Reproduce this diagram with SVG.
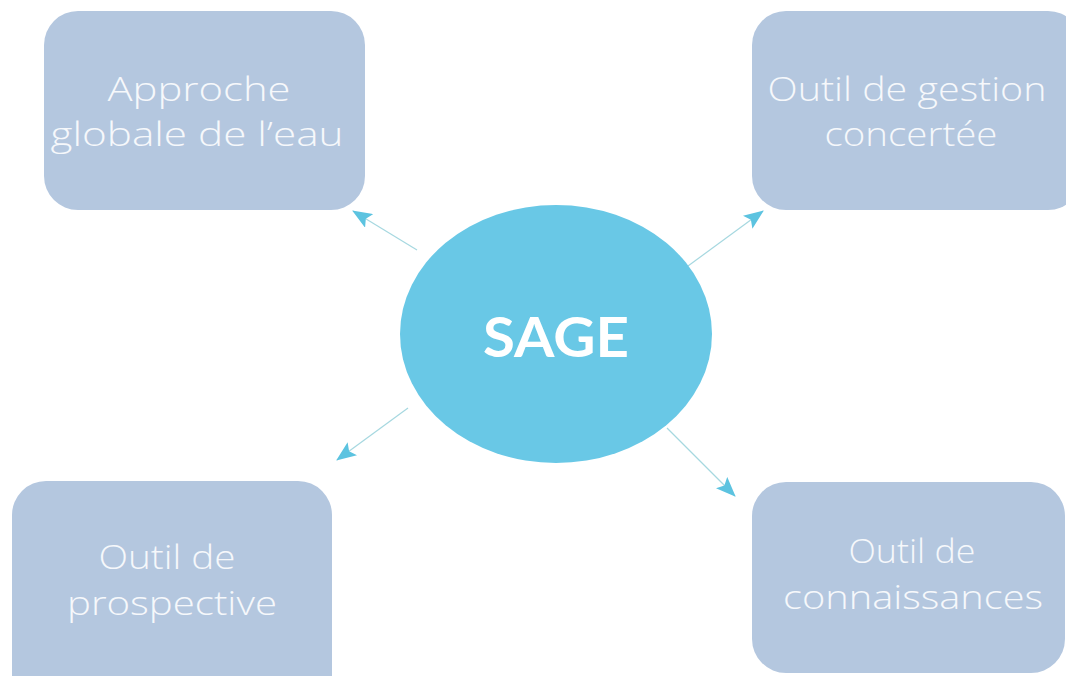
<svg xmlns="http://www.w3.org/2000/svg" width="1066" height="676" viewBox="0 0 1066 676">
<style>
.box{fill:#b4c7df}
.lbl{font-family:"Open Sans","DejaVu Sans",sans-serif;font-weight:300;font-size:33px;fill:#f6f8fb;text-anchor:middle}
.conn{stroke:#a6d8e0;stroke-width:1.2;fill:none;marker-end:url(#ah)}
</style>
<defs>
<marker id="ah" markerUnits="userSpaceOnUse" markerWidth="20" markerHeight="16" refX="19" refY="8" orient="auto">
<path d="M0,0 L20,8 L0,16 L4,8 Z" fill="#5cc3e0"/>
</marker>
</defs>
<rect width="1066" height="676" fill="#ffffff"/>
<g id="connectors">
<line class="conn" x1="417" y1="250" x2="353" y2="211"/>
<line class="conn" x1="688" y1="266" x2="763" y2="211"/>
<line class="conn" x1="408" y1="408" x2="337" y2="460"/>
<line class="conn" x1="667" y1="428" x2="735" y2="496"/>
</g>
<g id="node-approche">
<rect class="box" x="44" y="11" width="321" height="199" rx="34"/>
<text class="lbl" x="199" y="101" textLength="183" lengthAdjust="spacingAndGlyphs">Approche</text>
<text class="lbl" x="197" y="146" textLength="293" lengthAdjust="spacingAndGlyphs">globale de l’eau</text>
</g>
<g id="node-gestion">
<rect class="box" x="752" y="11" width="330" height="199" rx="34"/>
<text class="lbl" x="907" y="101" textLength="279" lengthAdjust="spacingAndGlyphs">Outil de gestion</text>
<text class="lbl" x="911" y="146" textLength="173" lengthAdjust="spacingAndGlyphs">concertée</text>
</g>
<g id="node-prospective">
<rect class="box" x="12" y="481" width="320" height="230" rx="34"/>
<text class="lbl" x="167" y="569" textLength="137" lengthAdjust="spacingAndGlyphs">Outil de</text>
<text class="lbl" x="172" y="615" textLength="210" lengthAdjust="spacingAndGlyphs">prospective</text>
</g>
<g id="node-connaissances">
<rect class="box" x="752" y="482" width="313" height="191" rx="34"/>
<text class="lbl" x="912" y="563" textLength="127" lengthAdjust="spacingAndGlyphs">Outil de</text>
<text class="lbl" x="913" y="609" textLength="260" lengthAdjust="spacingAndGlyphs">connaissances</text>
</g>
<g id="node-sage">
<ellipse cx="556" cy="334" rx="156" ry="129" fill="#69c8e6"/>
<text x="556" y="357" font-family="Lato,'Open Sans','DejaVu Sans',sans-serif" font-weight="700" font-size="56" fill="#ffffff" text-anchor="middle" textLength="146" lengthAdjust="spacingAndGlyphs">SAGE</text>
</g>
</svg>
